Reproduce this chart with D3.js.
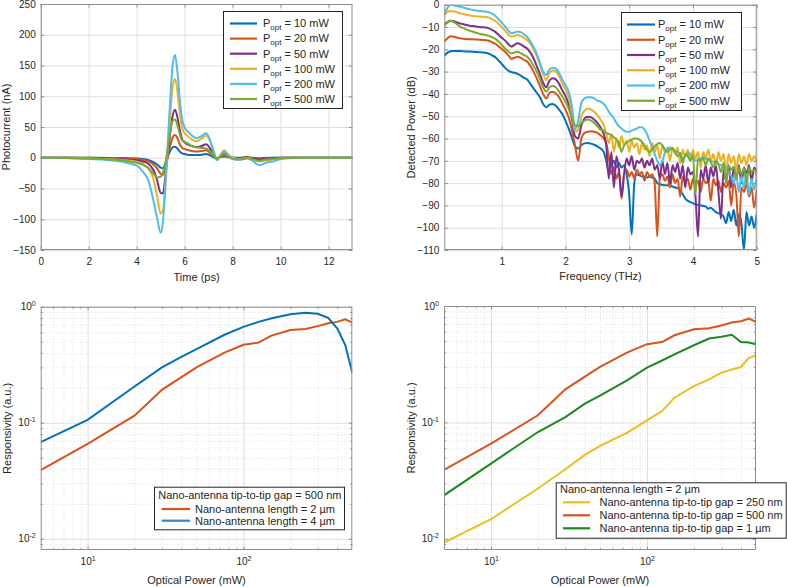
<!DOCTYPE html>
<html><head><meta charset="utf-8">
<script src="https://cdn.jsdelivr.net/npm/d3@7"></script>
<style>body{margin:0;background:#fff;} svg{display:block;}</style>
</head><body><script>
// ---------- DATA ----------
// Panel (a): photocurrent vs time
const time = [0,1,2,3,3.5,4,4.25,4.5,4.7,4.85,5.0,5.1,5.2,5.3,5.4,5.5,5.6,5.7,5.8,5.9,6.0,6.1,6.3,6.5,6.7,6.9,7.05,7.2,7.35,7.5,7.65,7.8,8.0,8.3,8.6,8.8,9.1,9.4,9.7,10,10.5,11,13];
const cur10  = [0,0,0,-0.3,-0.6,-1.2,-2,-4,-7,-11,-16,-17,-9,2,11,17,18,15,10,7,6,5,4.5,4.5,5,6,4,1,-1,1,2,1,0,0,0,0,-1,0,0,0,0,0,0];
const cur20  = [0,0,0,-0.5,-1,-2,-3.5,-6,-11,-17,-26,-28,-15,3,20,33,37,32,22,16,14,13,11,10,11,12,8,3,-1,2,4,2,0,-1,1.5,-1,-2,-1,-1,0,0,0,0];
const cur50  = [0,0,-0.5,-1.5,-2.5,-4,-6,-10,-20,-36,-57,-58,-30,5,40,68,78,66,45,30,25,22,19,17,19,22,16,6,-2,3,7,4,0,-1,1,-1,-3,-2,-1,0,0,0,0];
const cur100 = [0,-0.3,-1,-2.5,-4,-6.5,-10,-18,-35,-62,-91,-85,-45,15,70,115,128,108,72,48,40,36,30,27,31,36,28,12,-3,5,12,6,0,-2,0,-2,-6,-4,-3,-1,0,0,0];
const cur200 = [0,-0.5,-2,-4.5,-7.5,-13,-22,-38,-70,-97,-122,-103,-45,25,95,150,167,140,95,62,49,44,36,32,35,40,30,12,-4,3,10,5,-2,-3,-1,-4,-12,-8,-6,-2,-0.5,0,0];
const cur500 = [0,-0.3,-1,-3,-5,-8,-11,-17,-26,-32,-31,-24,-8,15,42,60,62,53,38,28,26,24,19,17,16,15,11,5,-2,3,7,3,-2,-3,-1,-2,-5,-3,-2,-1,0,0,0];

// Panel (b): detected power spectrum
const freq = [0.10,0.15,0.20,0.25,0.30,0.35,0.40,0.45,0.50,0.55,0.60,0.65,0.70,0.75,0.80,0.85,0.90,0.95,1.00,1.05,1.10,1.15,1.20,1.25,1.30,1.35,1.40,1.45,1.50,1.55,1.60,1.65,1.70,1.75,1.80,1.85,1.90,1.95,2.00,2.05,2.10,2.15,2.20,2.25,2.30,2.35,2.40,2.45,2.50,2.55,
  2.60,2.64,2.68,2.72,2.76,2.80,2.84,2.88,2.92,2.96,3.00,3.04,3.08,3.12,3.16,3.20,3.24,3.28,3.32,3.36,3.40,3.44,3.48,3.52,3.56,3.60,3.64,3.68,3.72,3.76,3.80,3.84,3.88,3.92,3.96,4.00,4.04,4.08,4.12,4.16,4.20,4.24,4.28,4.32,4.36,4.40,4.44,4.48,4.52,4.56,4.60,4.64,4.68,4.72,4.76,4.80,4.84,4.88,4.92,4.96,5.00];
const spec10 = [-23,-21.5,-20.9,-20.8,-20.8,-20.8,-20.9,-21,-21,-21.1,-21.2,-21.3,-21.4,-21.5,-22,-22.7,-23.5,-25,-26.5,-28.2,-29.5,-30.2,-30.5,-31,-31.8,-32.8,-33.5,-35.5,-37.5,-39.5,-41.5,-44.5,-46,-44.8,-44.5,-45.3,-47,-49,-52,-55.5,-59.5,-63.5,-64.5,-63,-62.2,-62,-62.3,-62.8,-63.5,-64.5,
  -66,-70,-75,-72,-70,-73,-71,-73,-72,-76,-85,-103,-80,-76,-76.5,-77,-77,-77.5,-77,-77.5,-78,-80,-80.5,-80.8,-81,-81,-81.2,-81.5,-82,-82.3,-83,-85,-87,-88,-88.5,-89,-89.5,-89.8,-90,-90.2,-90.5,-91.5,-91,-92,-93,-93.5,-94,-95,-98,-93,-97,-92,-99,-94,-98,-110,-93,-99,-95,-100,-94];
const spec20 = [-16.6,-15,-14.2,-14.4,-14.8,-15.1,-15.3,-15.4,-15.5,-15.5,-15.6,-15.7,-15.8,-15.9,-16.2,-16.8,-17.5,-18.6,-19.8,-21,-22.5,-24.3,-23.8,-23.3,-23.8,-24.8,-25.5,-27.5,-30,-33,-36.5,-40,-42,-39.5,-39,-39.8,-41.5,-44.2,-47,-50.5,-56,-63,-70,-60,-57.5,-57,-56.8,-57,-57.5,-58.5,
  -60,-62,-68,-76,-73,-78,-75,-87,-76,-74,-77,-75,-78,-74,-76,-75,-79,-75,-77,-76,-80,-104,-78,-76,-79,-77,-82,-76,-80,-78,-86,-77,-80,-78,-83,-78,-81,-79,-84,-78,-80,-79,-88,-78,-81,-79,-84,-80,-82,-79,-90,-80,-85,-104,-82,-84,-80,-86,-82,-91,-83];
const spec50 = [-8.7,-7.8,-7.2,-7.4,-8.0,-8.4,-8.8,-9.1,-9.4,-9.6,-9.8,-10,-10.1,-10.2,-10.6,-11.3,-12.2,-13.5,-14.8,-16,-17.5,-18.8,-18,-17.3,-17.8,-18.8,-19.6,-21.5,-24,-27.5,-31,-35,-37,-34,-33,-33.5,-35.5,-38.3,-41,-44.5,-51,-59,-60,-54,-51,-50.3,-50.5,-51.5,-53,-55,
  -58,-63,-78,-66,-82,-68,-74,-86,-76,-69,-72,-68,-74,-70,-71,-69,-73,-70,-72,-69,-74,-72,-78,-70,-76,-71,-80,-72,-75,-71,-78,-72,-82,-73,-76,-75,-86,-104,-74,-78,-72,-80,-73,-77,-72,-84,-96,-74,-79,-72,-82,-73,-78,-72,-80,-73,-76,-72,-79,-73,-75];
const spec100 = [-4.6,-3.2,-2.8,-3.0,-3.4,-3.9,-4.2,-4.5,-4.8,-5.1,-5.2,-5.3,-5.4,-5.5,-5.8,-6.5,-7.3,-8.5,-10,-11.5,-13.2,-14.3,-14,-13.6,-14,-15,-15.8,-17.5,-20,-23,-27,-31,-33.8,-30.5,-29.5,-30,-32,-35.3,-38,-41.5,-48,-57,-56,-50,-47.5,-46.5,-47,-48,-49.5,-51.5,
  -54,-58,-62,-58,-66,-60,-64,-59,-63,-61,-66,-61,-64,-62,-67,-62,-65,-63,-68,-62,-66,-63,-69,-63,-66,-64,-70,-64,-67,-64,-71,-65,-68,-65,-70,-65,-69,-66,-73,-66,-69,-65,-70,-67,-72,-66,-70,-67,-75,-67,-71,-68,-74,-67,-71,-68,-72,-67,-70,-68,-71];
const spec200 = [-4,-1.5,0,-0.3,-0.6,-0.9,-1.3,-1.7,-2.1,-2.4,-2.6,-2.8,-3.0,-3.1,-3.4,-4.0,-5.0,-6.5,-8.0,-9.6,-11.5,-12.8,-12.5,-12.0,-12.3,-13.3,-14.5,-16.5,-19,-22,-26,-30,-31.5,-29,-28.3,-28.8,-30.5,-33.5,-36,-39,-45,-56,-52,-44,-42,-41.5,-41.5,-42,-43,-43.5,
  -44.5,-46,-48,-49.5,-51,-53,-54.5,-55.5,-56.5,-57,-57,-56.5,-56,-55.5,-55,-55,-56,-58,-61,-64,-67,-70,-72,-70,-66.5,-64.5,-64,-64.5,-65.5,-66,-67.5,-69,-68,-66.5,-67,-68.5,-70,-69.5,-69,-68.5,-69,-69.5,-70,-70.5,-71,-71.5,-72,-72.5,-73,-75,-77,-80,-76,-84,-77,-82,-76,-85,-78,-83,-77];
const spec500 = [-9.6,-8,-7.2,-7.8,-8.8,-9.9,-10.5,-11.2,-11.7,-12.1,-12.6,-13,-13.4,-13.6,-14,-14.6,-15.3,-16.5,-18,-19.5,-20.8,-21.8,-21.4,-21.1,-21.8,-22.6,-23.3,-25,-27.5,-30,-33.5,-37,-39,-37,-36.5,-37,-39,-41.2,-43.5,-46.5,-50.5,-54,-54.5,-53,-52,-51.5,-52,-53,-54.5,-56,
  -56.5,-57.5,-58,-58.5,-59.5,-60.5,-62,-66,-63,-62,-61,-60.5,-60,-60,-60.5,-61.5,-63,-65,-66,-65,-63.5,-62.5,-62,-63,-65,-66,-65,-64.5,-66,-68,-66.5,-71,-67,-68,-70,-67.5,-85,-69,-70,-68.5,-72,-69,-70.5,-73,-70,-71.5,-75,-71,-80,-72,-74,-72.5,-78,-73,-76,-73.5,-80,-73,-75,-74,-77];

// Panels (c), (d): responsivity vs optical power
const power = [5,10,20,30,40,50,75,100,125,150,200,250,300,350,400,450,500];
const respLen2 = [0.039,0.0656,0.115,0.192,0.247,0.30,0.40,0.47,0.49,0.56,0.63,0.643,0.68,0.72,0.74,0.78,0.73];
const respLen4 = [0.068,0.106,0.205,0.30,0.37,0.43,0.57,0.67,0.74,0.79,0.86,0.885,0.87,0.80,0.65,0.47,0.27];
const respGap250 = [0.00927,0.0147,0.027,0.0395,0.0525,0.0627,0.0817,0.104,0.125,0.163,0.205,0.234,0.267,0.285,0.299,0.359,0.376];
const respGap500 = respLen2;
const respGap1000 = [0.0236,0.0442,0.0826,0.111,0.145,0.17,0.231,0.295,0.34,0.384,0.46,0.526,0.544,0.566,0.49,0.485,0.468];

const powerLabels = ["10 mW","20 mW","50 mW","100 mW","200 mW","500 mW"];
const timeTicks = [0,2,4,6,8,10,12];
const currentTicks = [-150,-100,-50,0,50,100,150,200,250];
const freqTicks = [1,2,3,4,5];
const dbTicks = [-110,-100,-90,-80,-70,-60,-50,-40,-30,-20,-10,0];
const logXTicks = [10,100];
const logYTicks = [0.01,0.1,1];
const logXMinor = [6,7,8,9,20,30,40,50,60,70,80,90,200,300,400];
const logYMinor = [0.009,0.02,0.03,0.04,0.05,0.06,0.07,0.08,0.09,0.2,0.3,0.4,0.5,0.6,0.7,0.8,0.9];

// ---------- STYLE ----------
const FONT = '"Liberation Sans", Arial, Helvetica, sans-serif';
const C = {blue:"#0072BD", orange:"#D95319", yellow:"#EDB120", purple:"#7E2F8E", cyan:"#4DBEEE", green:"#77AC30", dgreen:"#1b8a1b", gold:"#F2BC1A"};
const FRAME = "#8f8f8f", TXT = "#262626";

const svg = d3.select("body").append("svg").attr("width",787).attr("height",587)
  .style("font-family",FONT);
const defs = svg.append("defs");

function gridLayer(p){
  const g = svg.append("g");
  const style = (sel,color,dash)=>{ sel.select(".domain").remove(); sel.selectAll("text").remove();
    sel.selectAll(".tick line").attr("stroke",color).attr("stroke-width",1).attr("stroke-dasharray",dash); };
  if(p.xMinor) g.append("g").attr("transform",`translate(0,${p.B})`)
    .call(d3.axisBottom(p.x).tickValues(p.xMinor).tickSize(-(p.B-p.T)).tickFormat(""))
    .call(style,"#e2e2e2","1,2");
  if(p.yMinor) g.append("g").attr("transform",`translate(${p.L},0)`)
    .call(d3.axisLeft(p.y).tickValues(p.yMinor).tickSize(-(p.R-p.L)).tickFormat(""))
    .call(style,"#e2e2e2","1,2");
  g.append("g").attr("transform",`translate(0,${p.B})`)
    .call(d3.axisBottom(p.x).tickValues(p.xTicks).tickSize(-(p.B-p.T)).tickFormat(""))
    .call(style,"#dedede",null);
  g.append("g").attr("transform",`translate(${p.L},0)`)
    .call(d3.axisLeft(p.y).tickValues(p.yTicks).tickSize(-(p.R-p.L)).tickFormat(""))
    .call(style,"#dedede",null);
  defs.append("clipPath").attr("id","clip"+p.id).append("rect")
    .attr("x",p.L).attr("y",p.T).attr("width",p.R-p.L).attr("height",p.B-p.T);
  return svg.append("g").attr("clip-path",`url(#clip${p.id})`);
}

function supText(sel){
  sel.each(function(d){
    const e = Math.round(Math.log10(d));
    const t = d3.select(this); t.text(null);
    t.append("tspan").text("10");
    t.append("tspan").attr("dy","-4").attr("font-size","7px").text(String(e));
  });
}

function frameLayer(p){
  const g = svg.append("g");
  const tk = (axis, tr, vals, size)=> g.append("g").attr("transform",tr)
    .call(axis.tickValues(vals).tickSize(size).tickFormat(""))
    .call(s=>{ s.select(".domain").remove(); s.selectAll("text").remove(); s.selectAll("line").attr("stroke",FRAME); });
  const TL = 3.5, TM = 2;
  tk(d3.axisBottom(p.x),`translate(0,${p.B})`,p.xTicks,-TL);
  tk(d3.axisTop(p.x),`translate(0,${p.T})`,p.xTicks,-TL);
  tk(d3.axisLeft(p.y),`translate(${p.L},0)`,p.yTicks,-TL);
  tk(d3.axisRight(p.y),`translate(${p.R},0)`,p.yTicks,-TL);
  if(p.xMinor){ tk(d3.axisBottom(p.x),`translate(0,${p.B})`,p.xMinor,-TM); tk(d3.axisTop(p.x),`translate(0,${p.T})`,p.xMinor,-TM); }
  if(p.yMinor){ tk(d3.axisLeft(p.y),`translate(${p.L},0)`,p.yMinor,-TM); tk(d3.axisRight(p.y),`translate(${p.R},0)`,p.yMinor,-TM); }
  g.append("rect").attr("x",p.L+0.5).attr("y",p.T+0.5).attr("width",p.R-p.L-1).attr("height",p.B-p.T-1)
    .attr("fill","none").attr("stroke",FRAME).attr("stroke-width",1);
  const lab = s=>{ s.select(".domain").remove(); s.selectAll("line").remove();
    s.attr("font-family",FONT).attr("font-size",10); s.selectAll("text").attr("fill",TXT); };
  const xa = g.append("g").attr("transform",`translate(0,${p.B})`)
    .call(d3.axisBottom(p.x).tickValues(p.xTicks).tickSize(0).tickPadding(8).tickFormat(p.log? d=>d : d3.format("d")))
    .call(lab);
  const ya = g.append("g").attr("transform",`translate(${p.L},0)`)
    .call(d3.axisLeft(p.y).tickValues(p.yTicks).tickSize(0).tickPadding(5).tickFormat(p.log? d=>d : d3.format("d")))
    .call(lab);
  if(p.log){ xa.selectAll("text").call(supText); ya.selectAll("text").call(supText); }
  g.append("text").attr("x",(p.L+p.R)/2).attr("y",p.xlabY).attr("text-anchor","middle")
    .attr("font-size",11).attr("fill",TXT).text(p.xlabel);
  g.append("text").attr("transform",`translate(${p.ylabX},${(p.T+p.B)/2}) rotate(-90)`).attr("dy","0.35em")
    .attr("text-anchor","middle").attr("font-size",11).attr("fill",TXT).text(p.ylabel);
}

function legend(box, rows, title){
  const g = svg.append("g");
  g.append("rect").attr("x",box.x+0.5).attr("y",box.y+0.5).attr("width",box.w).attr("height",box.h)
    .attr("fill","#fff").attr("stroke",TXT).attr("stroke-width",1);
  if(title) g.append("text").attr("x",title.x).attr("y",title.y).attr("dy","0.35em")
    .attr("font-size",11).attr("fill",TXT).text(title.text);
  rows.forEach((r,i)=>{
    const yy = box.r0 + i*box.dr;
    g.append("line").attr("x1",box.lx0).attr("x2",box.lx1).attr("y1",yy).attr("y2",yy)
      .attr("stroke",r.color).attr("stroke-width",2.2);
    const t = g.append("text").attr("x",box.tx).attr("y",yy).attr("dy","0.35em").attr("font-size",11).attr("fill",TXT);
    if(r.popt){
      t.append("tspan").text("P");
      t.append("tspan").attr("font-size","8px").attr("dy","3").text("opt");
      t.append("tspan").attr("dy","-3").text(" = " + r.popt);
    } else t.text(r.text);
  });
}

// ---------- PANEL A ----------
{
  const p = {id:"a", L:40.7, R:352.5, T:4, B:250, xTicks:timeTicks, yTicks:currentTicks,
    xlabel:"Time (ps)", ylabel:"Photocurrent (nA)", xlabY:280.5, ylabX:6.5};
  p.x = d3.scaleLinear().domain([0,13]).range([p.L,p.R]);
  p.y = d3.scaleLinear().domain([-150,250]).range([p.B,p.T]);
  const g = gridLayer(p);
  const line = d3.line().x(d=>p.x(d[0])).y(d=>p.y(d[1])).curve(d3.curveMonotoneX);
  const series = [[cur10,C.blue],[cur20,C.orange],[cur50,C.purple],[cur100,C.yellow],[cur200,C.cyan],[cur500,C.green]];
  series.forEach(([v,c])=> g.append("path").datum(time.map((t,i)=>[t,v[i]]))
    .attr("d",line).attr("fill","none").attr("stroke",c).attr("stroke-width",2));
  frameLayer(p);
  legend({x:223,y:11,w:119,h:97,r0:23.5,dr:15.1,lx0:230,lx1:257,tx:263},
    series.map((s,i)=>({color:s[1],popt:powerLabels[i]})));
}
// ---------- PANEL B ----------
{
  const p = {id:"b", L:444.3, R:756.7, T:4.7, B:250, xTicks:freqTicks, yTicks:dbTicks,
    xlabel:"Frequency (THz)", ylabel:"Detected Power (dB)", xlabY:280, ylabX:411};
  p.x = d3.scaleLinear().domain([0.1,5]).range([p.L,p.R]);
  p.y = d3.scaleLinear().domain([-110,0]).range([p.B,p.T]);
  const g = gridLayer(p);
  const line = d3.line().x(d=>p.x(d[0])).y(d=>p.y(d[1])).curve(d3.curveMonotoneX);
  const series = [[spec10,C.blue],[spec20,C.orange],[spec50,C.purple],[spec100,C.yellow],[spec200,C.cyan],[spec500,C.green]];
  series.forEach(([v,c])=> g.append("path").datum(freq.map((f,i)=>[f,v[i]]))
    .attr("d",line).attr("fill","none").attr("stroke",c).attr("stroke-width",2).attr("stroke-linejoin","round"));
  frameLayer(p);
  legend({x:621,y:12,w:120,h:98,r0:24.5,dr:15.25,lx0:627,lx1:655,tx:658},
    series.map((s,i)=>({color:s[1],popt:powerLabels[i]})));
}
// ---------- PANEL C ----------
{
  const p = {id:"c", L:40.7, R:352.3, T:306.7, B:550, xTicks:logXTicks, yTicks:logYTicks, xMinor:logXMinor, yMinor:logYMinor, log:true,
    xlabel:"Optical Power (mW)", ylabel:"Responsivity (a.u.)", xlabY:584, ylabX:7.5};
  p.x = d3.scaleLog().domain([5,500]).range([p.L,p.R]);
  p.y = d3.scaleLog().domain([0.008,1]).range([p.B,p.T]);
  const g = gridLayer(p);
  const line = d3.line().x(d=>p.x(d[0])).y(d=>p.y(d[1]));
  [[respLen2,C.orange],[respLen4,C.blue]].forEach(([v,c])=> g.append("path").datum(power.map((x,i)=>[x,v[i]]))
    .attr("d",line).attr("fill","none").attr("stroke",c).attr("stroke-width",2));
  frameLayer(p);
  legend({x:154,y:486.7,w:190,h:42.6,r0:509,dr:11.7,lx0:161.7,lx1:190,tx:195},
    [{color:C.orange,text:"Nano-antenna length = 2 µm"},{color:"#2f86d1",text:"Nano-antenna length = 4 µm"}],
    {x:158.3,y:495,text:"Nano-antenna tip-to-tip gap = 500 nm"});
}
// ---------- PANEL D ----------
{
  const p = {id:"d", L:444, R:756, T:306, B:550, xTicks:logXTicks, yTicks:logYTicks, xMinor:logXMinor, yMinor:logYMinor, log:true,
    xlabel:"Optical Power (mW)", ylabel:"Responsivity (a.u.)", xlabY:584, ylabX:411};
  p.x = d3.scaleLog().domain([5,500]).range([p.L,p.R]);
  p.y = d3.scaleLog().domain([0.008,1]).range([p.B,p.T]);
  const g = gridLayer(p);
  const line = d3.line().x(d=>p.x(d[0])).y(d=>p.y(d[1]));
  [[respGap250,C.gold],[respGap500,C.orange],[respGap1000,C.dgreen]].forEach(([v,c])=> g.append("path").datum(power.map((x,i)=>[x,v[i]]))
    .attr("d",line).attr("fill","none").attr("stroke",c).attr("stroke-width",2));
  frameLayer(p);
  legend({x:555.7,y:482.3,w:230,h:55.4,r0:502.3,dr:13,lx0:563,lx1:590,tx:599.5},
    [{color:C.gold,text:"Nano-antenna tip-to-tip gap = 250 nm"},{color:C.orange,text:"Nano-antenna tip-to-tip gap = 500 nm"},{color:C.dgreen,text:"Nano-antenna tip-to-tip gap = 1 µm"}],
    {x:560,y:489.5,text:"Nano-antenna length = 2 µm"});
}
</script></body></html>
